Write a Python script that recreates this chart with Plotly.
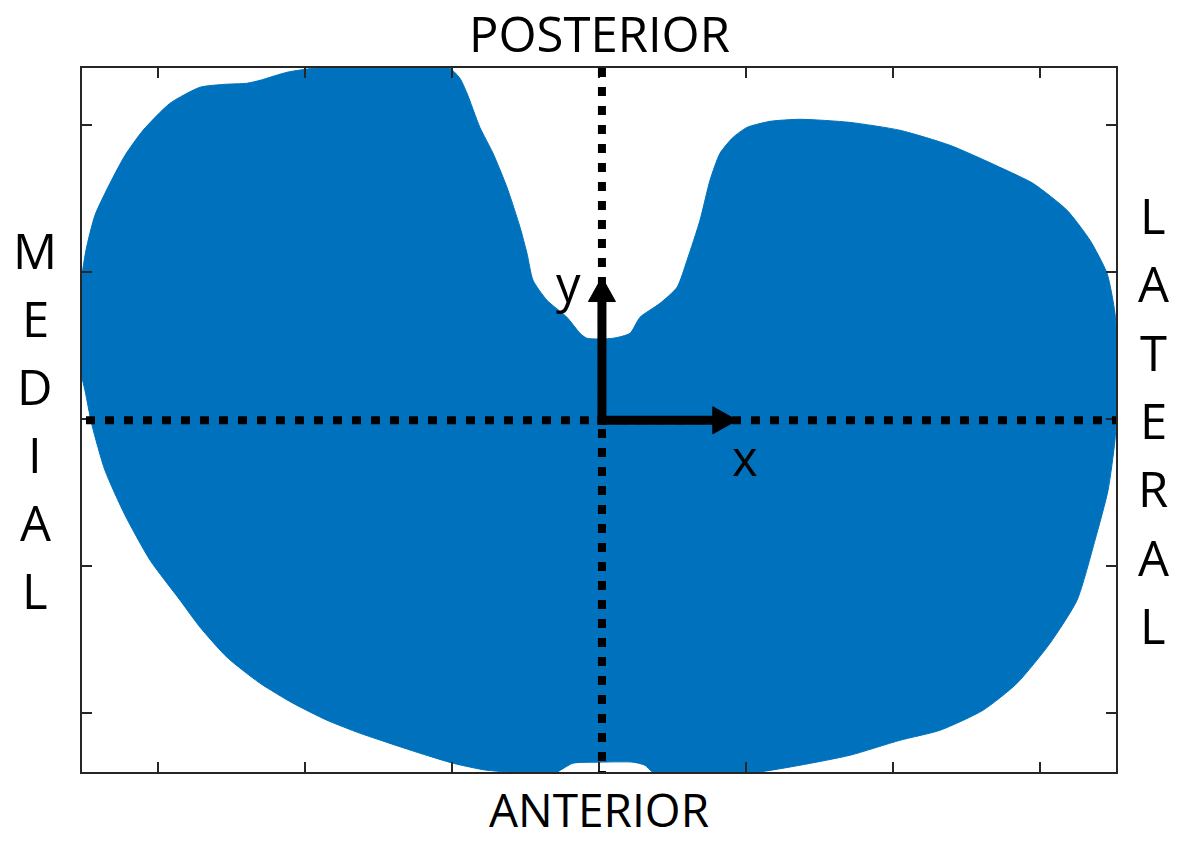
import plotly.graph_objects as go

# Tibial plateau outline (mm), traced clockwise from the medial edge
outline_x = [
    -35.3, -35.3, -34.9, -34.29, -33.27, -32.24, -31.02, -29.18, -27.14, -25.44,
    -23.95, -23.06, -21.22, -19.46, -18.3, -14.9, -10.82, -10.14, -9.46, -8.98,
    -8.10, -7.21, -6.26, -5.37, -4.90, -4.49, -3.54, -2.18, -1.29, -0.82,
    0.95, 2.11, 2.79, 4.15, 5.31, 5.99, 6.87, 7.55, 8.23, 9.12,
    10.07, 11.63, 13.67, 17.07, 20.48, 23.88, 27.28, 29.52, 31.84, 33.40,
    34.56, 35.10, 35.24, 35.24, 35.10, 34.63, 33.74, 32.52, 30.68, 28.44,
    26.12, 23.20, 20.48, 17.07, 13.67, 10.75, 6.87, 3.67, 3.13, 2.31,
    0.07, -1.77, -2.52, -2.99, -7.62, -9.93, -12.18, -16.26, -18.50, -20.82,
    -23.06, -25.31, -27.14, -28.50, -30.54, -32.24, -33.61, -34.49, -34.97, -35.3,
]
outline_y = [
    6.05, 8.78, 11.5, 13.88, 16.05, 17.96, 19.66, 21.50, 22.59, 22.79,
    22.86, 23.06, 23.61, 23.88, 23.95, 23.95, 23.95, 23.88, 23.20, 22.18,
    19.86, 18.10, 15.78, 13.06, 11.29, 9.46, 8.10, 6.94, 5.85, 5.51,
    5.51, 5.85, 6.94, 7.89, 8.98, 10.82, 13.54, 16.26, 18.10, 19.18,
    19.86, 20.27, 20.41, 20.20, 19.66, 18.64, 17.14, 16.05, 14.22, 12.18,
    9.93, 7.21, 4.49, 1.29, -1.43, -4.83, -8.23, -12.31, -15.24, -17.96,
    -19.80, -21.16, -21.84, -22.86, -23.54, -24.01, -24.08, -24.01, -23.54, -23.33,
    -23.33, -23.40, -23.81, -24.08, -23.88, -23.40, -22.72, -21.36, -20.48, -19.32,
    -17.96, -16.19, -14.15, -12.31, -9.59, -6.53, -3.47, -0.41, 1.97, 3.33,
]

# Axis limits and hidden tick positions (mm)
x_range = [-35.17, 35.17]
y_range = [-24.0, 23.9]
x_ticks = [-30, -20, -10, 0, 10, 20, 30]
y_ticks = [-20, -10, 0, 10, 20]

# Local coordinate system
origin = (0.2, -0.07)
x_arrow_tip = 9.39
y_arrow_tip = 9.66
head_len = 1.65
head_half = 0.92
dotted_h_start = -34.9
dotted_v_end = -24.4

# Side labels: one letter per line, vertical positions in paper units
medial_letters = list("MEDIAL")
lateral_letters = list("LATERAL")
medial_y = [0.742, 0.645, 0.549, 0.452, 0.355, 0.259]
lateral_y = [0.791, 0.694, 0.597, 0.500, 0.403, 0.306, 0.209]

BLUE = "#0072BD"
FONT = "Open Sans"
FS = 49

fig = go.Figure()
fig.add_trace(go.Scatter(
    x=outline_x, y=outline_y, mode="lines", fill="toself",
    fillcolor=BLUE, line=dict(color=BLUE, width=1, shape="spline", smoothing=0.6),
    hoverinfo="skip", showlegend=False,
))

dot = dict(color="black", width=8, dash="9px,10px")
shapes = [
    # dotted reference axes
    dict(type="line", xref="x", yref="y", x0=dotted_h_start, x1=x_range[1],
         y0=origin[1], y1=origin[1], line=dot, layer="above"),
    dict(type="line", xref="x", yref="y", x0=origin[0], x1=origin[0],
         y0=y_range[1], y1=dotted_v_end, line=dot, layer="above"),
    # x arrow shaft and head
    dict(type="line", xref="x", yref="y", x0=origin[0] - 0.3, x1=x_arrow_tip - head_len + 0.2,
         y0=origin[1], y1=origin[1], line=dict(color="black", width=9), layer="above"),
    dict(type="path", xref="x", yref="y", layer="above",
         path=f"M{x_arrow_tip - head_len},{origin[1] - head_half} L{x_arrow_tip},{origin[1]} "
              f"L{x_arrow_tip - head_len},{origin[1] + head_half} Z",
         fillcolor="black", line=dict(color="black", width=1)),
    # y arrow shaft and head
    dict(type="line", xref="x", yref="y", x0=origin[0], x1=origin[0],
         y0=origin[1] - 0.3, y1=y_arrow_tip - head_len + 0.2,
         line=dict(color="black", width=9), layer="above"),
    dict(type="path", xref="x", yref="y", layer="above",
         path=f"M{origin[0] - head_half},{y_arrow_tip - head_len} L{origin[0]},{y_arrow_tip} "
              f"L{origin[0] + head_half},{y_arrow_tip - head_len} Z",
         fillcolor="black", line=dict(color="black", width=1)),
]

font = dict(family=FONT, size=FS, color="black")
centered = dict(showarrow=False, xanchor="center", yanchor="middle", font=font)
annotations = [
    dict(text="POSTERIOR", xref="paper", yref="paper", x=0.5, y=1.050, **centered),
    dict(text="ANTERIOR", xref="paper", yref="paper", x=0.5, y=-0.0526,
         showarrow=False, xanchor="center", yanchor="middle",
         font=dict(family=FONT, size=46, color="black")),
    dict(text="y", xref="x", yref="y", x=-2.1, y=9.3, **centered),
    dict(text="x", xref="x", yref="y", x=9.9, y=-2.6, **centered),
]
for ch, yy in zip(medial_letters, medial_y):
    annotations.append(dict(text=ch, xref="paper", yref="paper", x=-0.045, y=yy, **centered))
for ch, yy in zip(lateral_letters, lateral_y):
    annotations.append(dict(text=ch, xref="paper", yref="paper", x=1.036, y=yy, **centered))

axis_common = dict(showgrid=False, zeroline=False, showticklabels=False,
                   ticks="inside", ticklen=10, tickwidth=1.5, tickcolor="#262626",
                   showline=True, linecolor="#262626", linewidth=1.5, mirror="ticks")

fig.update_layout(
    width=1182, height=842,
    margin=dict(l=82, r=66, t=68, b=70),
    paper_bgcolor="white", plot_bgcolor="white",
    xaxis=dict(range=x_range, tickvals=x_ticks, **axis_common),
    yaxis=dict(range=y_range, tickvals=y_ticks, **axis_common),
    shapes=shapes, annotations=annotations,
)

fig.write_html("out.html")
